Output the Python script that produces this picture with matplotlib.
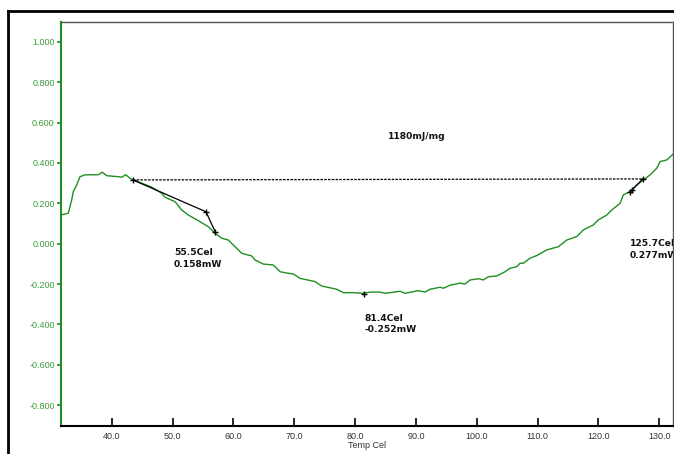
import matplotlib
matplotlib.use("Agg")
import matplotlib.pyplot as plt
from matplotlib.lines import Line2D

temp = [31.67, 32.87, 33.43, 33.69, 34.25, 34.79, 35.62, 37.80, 38.46, 39.18,
        41.09, 41.65, 42.30, 43.01, 43.55, 44.93, 46.58, 48.22, 48.76, 50.41,
        51.51, 52.59, 54.24, 55.88, 56.98, 58.08, 59.17, 60.27, 61.37, 63.02,
        63.56, 64.92, 66.57, 67.67, 69.03, 69.85, 70.95, 73.42, 74.52, 76.99,
        78.07, 79.71, 81.36, 82.46, 84.11, 84.93, 85.75, 87.39, 88.21, 90.40,
        91.50, 92.32, 93.97, 94.51, 95.61, 97.26, 98.08, 98.90, 100.26, 101.08,
        101.91, 103.29, 104.65, 105.47, 106.57, 107.12, 107.66, 108.76, 109.86, 111.50,
        113.41, 114.79, 116.43, 117.52, 119.16, 119.99, 121.37, 122.19, 123.55, 124.09,
        125.20, 126.30, 127.38, 128.48, 129.58, 130.13, 131.23, 132.31]
dsc = [0.142, 0.151, 0.217, 0.258, 0.291, 0.332, 0.341, 0.342, 0.354, 0.337,
       0.332, 0.329, 0.342, 0.324, 0.316, 0.300, 0.280, 0.250, 0.230, 0.208,
       0.167, 0.142, 0.114, 0.084, 0.052, 0.027, 0.018, -0.015, -0.048, -0.061,
       -0.081, -0.101, -0.106, -0.139, -0.147, -0.150, -0.172, -0.188, -0.210, -0.226,
       -0.243, -0.243, -0.246, -0.240, -0.240, -0.246, -0.243, -0.236, -0.246, -0.233,
       -0.240, -0.226, -0.216, -0.221, -0.206, -0.196, -0.200, -0.180, -0.174, -0.180,
       -0.164, -0.160, -0.139, -0.122, -0.114, -0.097, -0.097, -0.072, -0.059, -0.031,
       -0.015, 0.018, 0.035, 0.068, 0.093, 0.118, 0.142, 0.167, 0.200, 0.242,
       0.258, 0.291, 0.316, 0.341, 0.374, 0.407, 0.415, 0.445]

baseline_x = [43.5, 127.3]
baseline_y = [0.316, 0.321]
onset_x = [43.5, 55.5, 57.0]
onset_y = [0.316, 0.158, 0.060]
end_x = [125.2, 125.5, 127.3]
end_y = [0.256, 0.266, 0.321]
peak_x = [81.4]
peak_y = [-0.252]

xticks = [40, 50, 60, 70, 80, 90, 100, 110, 120, 130]
yticks = [-0.8, -0.6, -0.4, -0.2, 0.0, 0.2, 0.4, 0.6, 0.8, 1.0]

fig = plt.figure(figsize=(6.74, 4.54), dpi=100)
ax = fig.add_axes([61/674, 28/454, 612/674, 404/454])

green = '#1f8f1f'
labgreen = '#3a9e3a'
ax.plot(temp, dsc, color=green, lw=1.0)
ax.plot(baseline_x, baseline_y, color='black', lw=0.9, ls=(0, (2, 1)))
ax.plot(onset_x, onset_y, color='black', lw=0.9, marker='+', ms=5, mew=1.0)
ax.plot(end_x, end_y, color='black', lw=0.9, marker='+', ms=5, mew=1.0)
ax.plot(peak_x, peak_y, color='black', lw=0, marker='+', ms=5, mew=1.0)

tk = dict(fontsize=6.6, fontweight='bold', family='DejaVu Sans', color='#111111', va='center', ha='left')
ax.text(85.47, 0.531, '1180mJ/mg', **tk)
ax.text(50.24, -0.043, '55.5Cel', **tk)
ax.text(50.24, -0.102, '0.158mW', **tk)
ax.text(81.52, -0.370, '81.4Cel', **tk)
ax.text(81.52, -0.426, '-0.252mW', **tk)
ax.text(125.1, -0.0015, '125.7Cel', clip_on=True, **tk)
ax.text(125.1, -0.058, '0.277mW', clip_on=True, **tk)

ax.set_xlim(31.67, 132.25)
ax.set_ylim(-0.904, 1.099)
ax.set_xticks(xticks)
ax.set_xticklabels([f'{v:.1f}' for v in xticks])
ax.set_yticks(yticks)
ax.set_yticklabels([f'{v:.3f}' for v in yticks])
ax.tick_params(axis='x', direction='in', length=6, width=1.2, colors='black', labelsize=6.5,
               labelcolor='#333333', pad=4)
ax.tick_params(axis='y', direction='out', length=3, width=1.2, colors=green, labelsize=6.5,
               labelcolor=labgreen, pad=1.5)
for lab in ax.get_xticklabels() + ax.get_yticklabels():
    lab.set_family('Liberation Sans')
ax.set_xlabel('Temp Cel', fontsize=6.5, family='Liberation Sans', color='#333333', labelpad=0)

ax.spines['left'].set_color(green)
ax.spines['left'].set_linewidth(1.5)
ax.spines['bottom'].set_color('black')
ax.spines['bottom'].set_linewidth(1.5)
ax.spines['top'].set_color('#555555')
ax.spines['top'].set_linewidth(1.0)
ax.spines['right'].set_color('#555555')
ax.spines['right'].set_linewidth(1.0)

# outer frame
fig.add_artist(Line2D([8/674, 8/674], [0, 1 - 11/454], color='black', lw=2, transform=fig.transFigure))
fig.add_artist(Line2D([8/674, 1], [1 - 11/454, 1 - 11/454], color='black', lw=2, transform=fig.transFigure))

fig.savefig('out.png', dpi=100)
